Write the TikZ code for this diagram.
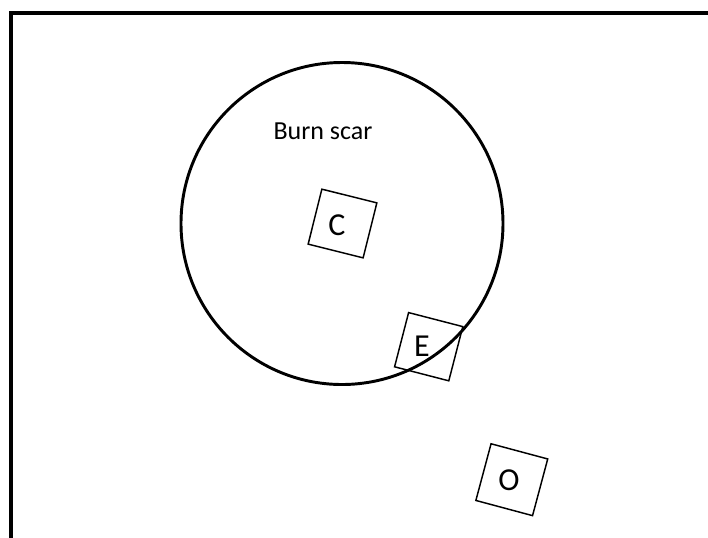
\documentclass[tikz,border=0pt]{standalone}
\usepackage{fontspec}
\setmainfont{Carlito}
\usepackage{tikz}

\begin{document}
\begin{tikzpicture}[
    x=0.75pt, y=-0.75pt,
    plot/.style={draw, minimum size=42.5pt, inner sep=0pt, line width=1.1pt},
    letter/.style={font=\fontsize{24}{28}\selectfont, inner sep=0pt},
    scarlabel/.style={font=\fontsize{19.5}{23}\selectfont, inner sep=0pt}
]
\useasboundingbox (0,0) rectangle (708,537);
\clip (0,0) rectangle (708,537);

% Frame
\draw[line width=2.3pt] (11,13) rectangle (730,560);

% Burn scar
\draw[line width=2.2pt] (342,223.5) circle [radius=120.75pt];
\node[scarlabel] (scarname) at (323,131) {Burn scar};

% Plots
\node[plot, rotate=-14] (plotC) at (342.5,223.5) {};
\node[letter] (txtC) at (337,225.5) {C};

\node[plot, rotate=-14.5, minimum size=42pt] (plotE) at (428.7,346.7) {};
\node[letter] (txtE) at (422,346) {E};

\node[plot, rotate=-15, minimum size=44pt] (plotO) at (511.8,479.7) {};
\node[letter] (txtO) at (509,480.5) {O};

\end{tikzpicture}
\end{document}
